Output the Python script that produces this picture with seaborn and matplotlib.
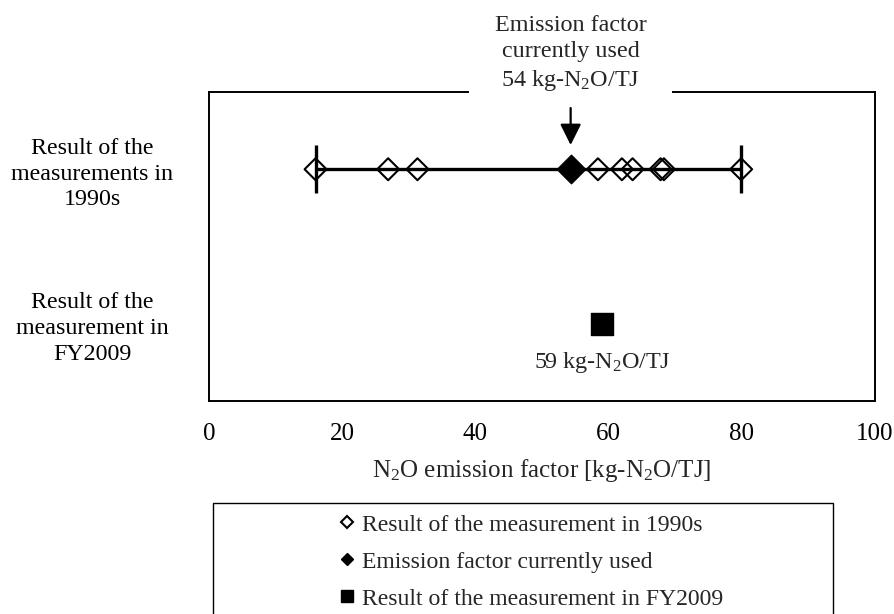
import numpy as np
import pandas as pd
import matplotlib
matplotlib.use("Agg")
import matplotlib.pyplot as plt
from matplotlib.lines import Line2D
from matplotlib.patches import Rectangle
import seaborn as sns

# ---------------- data ----------------
measurements_1990s = [16.0, 26.9, 31.3, 58.4, 62.0, 63.6, 67.8, 68.3, 79.9]
current_factor = [54.3]
result_fy2009 = [59.0]
row_positions = [3, 2, 1]
row_labels = ["Result of the\nmeasurements in\n1990s", "", "Result of the\nmeasurement in\nFY2009"]
x_ticks = [0, 20, 40, 60, 80, 100]
legend_labels = ["Result of the measurement in 1990s",
                 "Emission factor currently used",
                 "Result of the measurement in FY2009"]
top_note = "Emission factor\ncurrently used\n54 kg-N$_2$O/TJ"
bottom_note = "59 kg-N$_2$O/TJ"
x_label = "N$_2$O emission factor [kg-N$_2$O/TJ]"

# ---------------- style ----------------
sns.set_theme(style="white")
plt.rcParams["font.family"] = ["Liberation Serif", "DejaVu Serif"]
plt.rcParams["mathtext.fontset"] = "custom"
plt.rcParams["mathtext.rm"] = "Liberation Serif"
plt.rcParams["mathtext.default"] = "regular"
FS = 17.4

df90 = pd.DataFrame({"x": measurements_1990s, "y": [row_positions[0]] * len(measurements_1990s)})
dfcur = pd.DataFrame({"x": current_factor, "y": [row_positions[0]]})
df09 = pd.DataFrame({"x": result_fy2009, "y": [row_positions[2]]})

fig = plt.figure(figsize=(8.94, 6.14), dpi=100)
ax = fig.add_axes([209 / 894, 1 - 401 / 614, (875 - 209) / 894, (401 - 92) / 614])

# range bar (min to max of the 1990s measurements)
lo, hi = min(measurements_1990s), max(measurements_1990s)
mid = (lo + hi) / 2
ax.errorbar([mid], [row_positions[0]], xerr=[[mid - lo], [hi - mid]], fmt="none",
            ecolor="black", elinewidth=2.4, capsize=17, capthick=2.4, zorder=2)

sns.scatterplot(data=df90, x="x", y="y", marker="D", s=125, facecolors="none",
                edgecolor="black", linewidth=1.5, ax=ax, legend=False, zorder=3)
sns.scatterplot(data=dfcur, x="x", y="y", marker="D", s=210, color="black",
                edgecolor="black", linewidth=1, ax=ax, legend=False, zorder=4)
sns.scatterplot(data=df09, x="x", y="y", marker="s", s=250, color="black",
                edgecolor="black", linewidth=1, ax=ax, legend=False, zorder=4)

ax.set_xlim(x_ticks[0], x_ticks[-1])
ax.set_ylim(0, 4)
ax.set_xticks(x_ticks)
ax.set_xticklabels([str(t) for t in x_ticks], fontsize=18)
ax.set_yticks(row_positions)
ax.set_yticklabels(row_labels, fontsize=17.3, linespacing=1.3)
for lbl in ax.get_yticklabels():
    lbl.set_ha("center")
    lbl.set_multialignment("center")
ax.tick_params(axis="y", direction="in", length=5.5, width=1.1, pad=84, colors="black")
ax.tick_params(axis="x", direction="in", length=5.5, width=1.1, pad=16, colors="black")
for sp in ax.spines.values():
    sp.set_visible(True)
    sp.set_color("black")
    sp.set_linewidth(1.4)
ax.set_ylabel("")
ax.set_xlabel(x_label, fontsize=18)
ax.xaxis.set_label_coords(0.5, -0.2234)
ax.xaxis.label.set_va("center")

# top annotation with white background covering the top spine
ax.annotate(top_note, xy=(current_factor[0], 1), xycoords=("data", "axes fraction"),
            xytext=(0, 38), textcoords="offset pixels",
            ha="center", va="center", fontsize=FS, linespacing=1.3,
            bbox=dict(boxstyle="square,pad=1.05", fc="white", ec="none"),
            annotation_clip=False, zorder=5)
# arrow
ax.annotate("", xy=(current_factor[0], (401 - 145) / 309 * 4),
            xytext=(current_factor[0], (401 - 108) / 309 * 4),
            arrowprops=dict(arrowstyle="-|>", color="black", lw=1.6, mutation_scale=32,
                            shrinkA=0, shrinkB=0),
            zorder=6)
# label under the square
ax.text(result_fy2009[0], row_positions[2] - 0.5, bottom_note, ha="center", va="center",
        fontsize=FS)

# legend box
fig.patches.append(Rectangle((213 / 894, -0.1), (833 - 213) / 894, 0.1 + (1 - 503 / 614),
                             transform=fig.transFigure, fill=False, ec="black", lw=1.0))
handles = [
    Line2D([], [], marker="D", ls="none", ms=6.5, mfc="white", mec="black", mew=1.5),
    Line2D([], [], marker="D", ls="none", ms=6.5, mfc="black", mec="black"),
    Line2D([], [], marker="s", ls="none", ms=9, mfc="black", mec="black"),
]
fig.legend(handles, legend_labels, loc="upper left", bbox_to_anchor=(339 / 894, 1 - 514 / 614),
           frameon=False, fontsize=17.1, handlelength=0.7, handletextpad=0.25,
           borderpad=0, borderaxespad=0, labelspacing=0.65)

fig.savefig("out.png", dpi=100)
